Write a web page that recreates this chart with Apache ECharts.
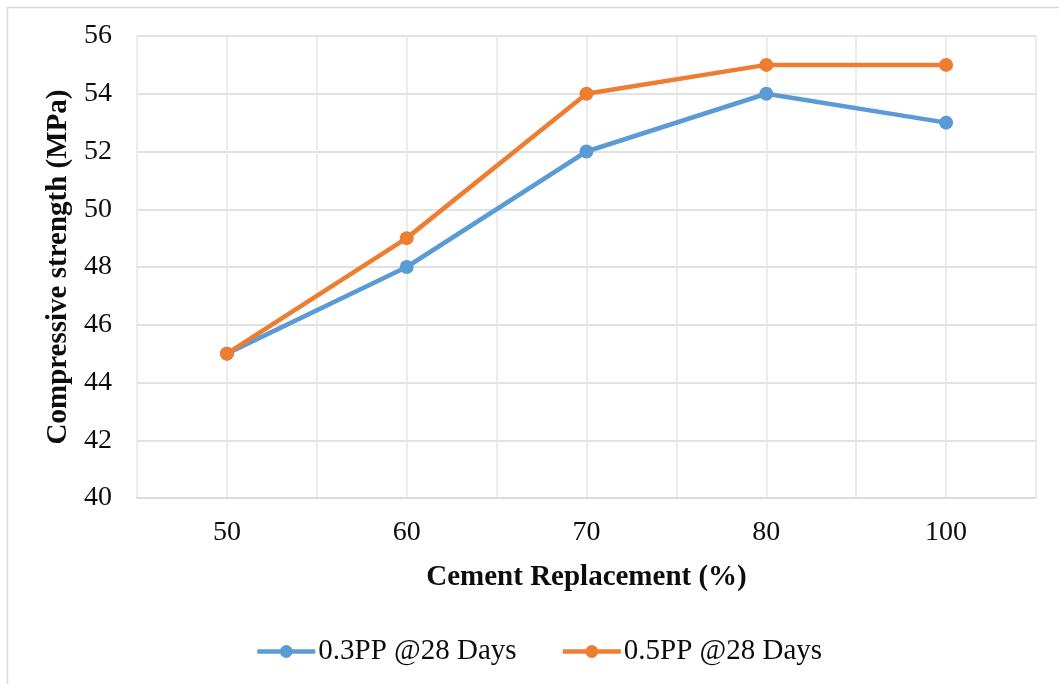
<!DOCTYPE html>
<html>
<head>
<meta charset="utf-8">
<script src="https://cdn.jsdelivr.net/npm/echarts@6/dist/echarts.min.js"></script>
<style>
  html, body { margin: 0; padding: 0; background: #fff; }
  #chart { width: 1059px; height: 684px; }
</style>
</head>
<body>
<div id="chart"></div>
<script>
// Cement replacement levels (x categories)
const categories = ['50', '60', '70', '80', '100'];
// Compressive strength at 28 days (MPa)
const pp03 = [45, 48, 52, 54, 53];
const pp05 = [45, 49, 54, 55, 55];
const seriesNames = ['0.3PP @28 Days', '0.5PP @28 Days'];

const FONT = '"Liberation Serif", "Times New Roman", serif';
const TEXT = '#0d0d0d';
const chart = echarts.init(document.getElementById('chart'), null, { renderer: 'canvas' });

chart.setOption({
  backgroundColor: '#ffffff',
  animation: false,
  graphic: [
    { type: 'line', shape: { x1: 7.5, y1: 7, x2: 7.5, y2: 684 }, style: { stroke: '#d9d9d9', lineWidth: 1.5 } },
    { type: 'line', shape: { x1: 7, y1: 7.5, x2: 1059, y2: 7.5 }, style: { stroke: '#d9d9d9', lineWidth: 1.5 } }
  ],
  grid: { left: 137, right: 23, top: 36, bottom: 186, containLabel: false },
  legend: {
    top: 632,
    left: 250,
    itemWidth: 58,
    itemHeight: 16,
    itemGap: 44,
    lineStyle: { width: 4.5 },
    textStyle: { fontFamily: FONT, fontSize: 29, color: TEXT, padding: [0, 0, 0, -2] },
    data: seriesNames
  },
  xAxis: [
    {
      type: 'category',
      data: categories,
      boundaryGap: true,
      axisLine: { show: true, lineStyle: { color: '#d9d9d9', width: 1.5 } },
      axisTick: { show: false },
      splitLine: { show: false },
      axisLabel: { fontFamily: FONT, fontSize: 28, color: TEXT, margin: 21 },
      name: 'Cement Replacement (%)',
      nameLocation: 'middle',
      nameGap: 65,
      nameTextStyle: { fontFamily: FONT, fontSize: 29, fontWeight: 'bold', color: TEXT }
    },
    {
      // half-category vertical grid lines
      type: 'value',
      min: 0,
      max: 10,
      interval: 1,
      position: 'bottom',
      axisLine: { show: false },
      axisTick: { show: false },
      axisLabel: { show: false },
      splitLine: { show: true, lineStyle: { color: '#e6e6e6', width: 1.5 } }
    }
  ],
  yAxis: {
    type: 'value',
    min: 40,
    max: 56,
    interval: 2,
    axisLine: { show: false },
    axisTick: { show: false },
    splitLine: { show: true, lineStyle: { color: '#d9d9d9', width: 1.5 } },
    axisLabel: { fontFamily: FONT, fontSize: 28, color: TEXT, margin: 25 },
    name: 'Compressive strength (MPa)',
    nameLocation: 'middle',
    nameGap: 62,
    nameTextStyle: { fontFamily: FONT, fontSize: 29, fontWeight: 'bold', color: TEXT }
  },
  series: [
    {
      name: seriesNames[0],
      type: 'line',
      xAxisIndex: 0,
      data: pp03,
      color: '#5B9BD5',
      lineStyle: { width: 4.5, color: '#5B9BD5' },
      symbol: 'circle',
      symbolSize: 14,
      itemStyle: { color: '#5B9BD5' },
      z: 3
    },
    {
      name: seriesNames[1],
      type: 'line',
      xAxisIndex: 0,
      data: pp05,
      color: '#ED7D31',
      lineStyle: { width: 4.5, color: '#ED7D31' },
      symbol: 'circle',
      symbolSize: 14,
      itemStyle: { color: '#ED7D31' },
      z: 4
    }
  ]
});
</script>
</body>
</html>
